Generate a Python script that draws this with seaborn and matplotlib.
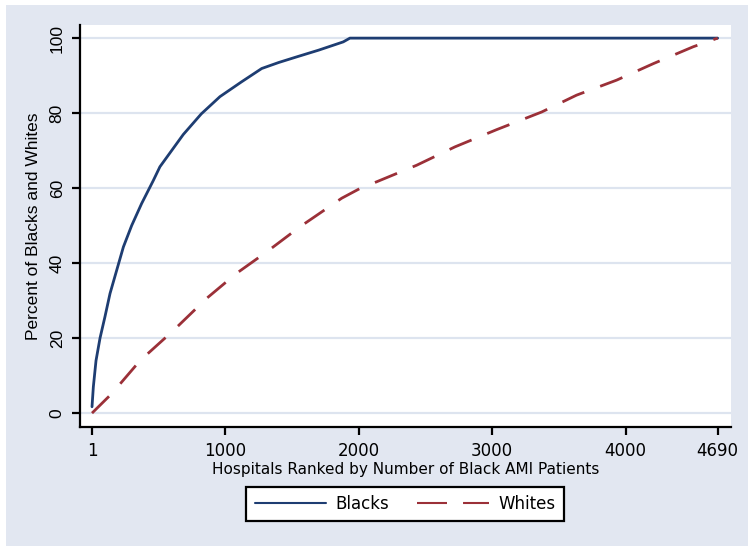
import seaborn as sns, matplotlib.pyplot as plt
import pandas as pd
from matplotlib.patches import Rectangle
from matplotlib.lines import Line2D

# cumulative percent of patients
black_x = [1, 11, 31, 61, 98, 136, 186, 236, 298, 373, 460, 510, 685, 820,
           960, 1120, 1273, 1400, 1535, 1700, 1884, 1934, 4690]
black_y = [1.7, 7, 14, 20, 25.7, 31.9, 38.1, 44.3, 50, 55.9, 62, 65.7, 74.3,
           79.8, 84.4, 88.3, 91.9, 93.5, 95, 96.8, 99, 100, 100]
white_x = [1, 149, 361, 610, 860, 1085, 1310, 1560, 1872, 2009, 2135, 2434,
           2721, 3034, 3371, 3633, 3933, 4208, 4507, 4690]
white_y = [0, 5.2, 14, 22, 30.6, 37.3, 43, 49.7, 57.3, 59.9, 61.7, 66.1,
           71, 75.6, 80.3, 84.8, 88.8, 93.2, 97.7, 100]
x_ticks = [1, 1000, 2000, 3000, 4000, 4690]
y_ticks = [0, 20, 40, 60, 80, 100]

df = pd.concat([
    pd.DataFrame({'rank': black_x, 'pct': black_y, 'group': 'Blacks'}),
    pd.DataFrame({'rank': white_x, 'pct': white_y, 'group': 'Whites'}),
])

navy = '#1e3d72'
maroon = '#9b3038'
bg = '#e2e7f1'
grid = '#dde4ef'

sns.set_style('white')
plt.rcParams['font.family'] = ['DejaVu Sans']
plt.rcParams['text.color'] = 'black'
plt.rcParams['axes.labelcolor'] = 'black'
plt.rcParams['xtick.color'] = 'black'
plt.rcParams['ytick.color'] = 'black'

W, H = 753, 549
fig = plt.figure(figsize=(W / 100, H / 100), dpi=100)
fig.patch.set_facecolor('white')
fig.patches.append(Rectangle((6 / W, 3 / H), 742 / W, 541 / H,
                             transform=fig.transFigure, facecolor=bg,
                             edgecolor='none', zorder=-10))

ax = fig.add_axes([80 / W, 1 - 427 / H, 651 / W, 402 / H])
ax.set_facecolor('white')

sns.lineplot(data=df, x='rank', y='pct', hue='group', style='group',
             palette={'Blacks': navy, 'Whites': maroon},
             dashes={'Blacks': '', 'Whites': (8.6, 6.1)},
             linewidth=2.0, legend=False, ax=ax, sort=True)

ax.set_xlim(-89, 4790)
ax.set_ylim(-3.7, 103.5)
ax.set_xticks(x_ticks)
ax.set_yticks(y_ticks)
ax.set_xticklabels([str(t) for t in x_ticks], fontsize=12)
ax.set_yticklabels([str(t) for t in y_ticks], fontsize=12.5,
                   rotation=90, va='center', family='Liberation Sans')
for y in y_ticks:
    ax.axhline(y, color=grid, lw=1.6, zorder=0)

for side in ['top', 'right']:
    ax.spines[side].set_visible(False)
for side in ['left', 'bottom']:
    ax.spines[side].set_color('black')
    ax.spines[side].set_linewidth(1.6)
ax.tick_params(axis='both', direction='out', length=6, width=1.6,
               color='black', bottom=True, left=True)
ax.tick_params(axis='x', pad=5)
ax.tick_params(axis='y', pad=5)

ax.set_xlabel('Hospitals Ranked by Number of Black AMI Patients',
              fontsize=11, labelpad=1)
ax.set_ylabel('Percent of Blacks and Whites', fontsize=12.5,
              family='Liberation Sans', labelpad=6)

handles = [Line2D([], [], color=navy, lw=1.5),
           Line2D([], [], color=maroon, lw=1.5, dashes=(14.4, 7.7))]
leg = fig.legend(handles, ['Blacks', 'Whites'], ncol=2, loc='center',
                 bbox_to_anchor=(405 / W, 1 - 504 / H), fontsize=12,
                 frameon=True, fancybox=False, handlelength=4.3,
                 handletextpad=0.55, columnspacing=1.7, borderpad=0.5)
leg.get_frame().set_edgecolor('black')
leg.get_frame().set_linewidth(1.6)
leg.get_frame().set_facecolor('white')
leg.get_frame().set_alpha(1)

fig.savefig('out.png', dpi=100)
